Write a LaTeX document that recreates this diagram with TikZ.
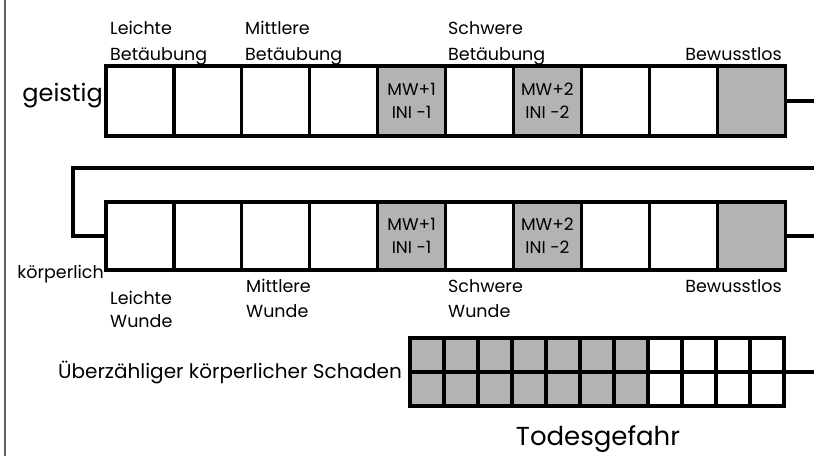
\documentclass[tikz,border=0pt]{standalone}
\usepackage{fontspec}
\setmainfont{Poppins}
\definecolor{cellgray}{RGB}{179,179,179}
\definecolor{framegray}{RGB}{95,95,95}
\begin{document}
\begin{tikzpicture}[x=1pt,y=-1pt,
  cell/.style={draw=black, line width=3.2pt, fill=white, minimum width=68pt, minimum height=70pt, inner sep=0pt, outer sep=0pt, anchor=north west},
  lowcell/.style={cell, minimum height=68pt},
  dcell/.style={draw=black, line width=3.2pt, fill=white, minimum width=34pt, minimum height=34pt, inner sep=0pt, outer sep=0pt, anchor=north west},
  shaded/.style={fill=cellgray},
  conn/.style={draw=black, line width=3.2pt},
  lbl/.style={inner sep=0pt, align=left, font=\fontsize{17.5}{26}\selectfont},
  celltxt/.style={font=\fontsize{17}{23}\selectfont, align=center}
]
\useasboundingbox (0,0) rectangle (814,456);
\draw[framegray, line width=2pt] (5,0) -- (5,456);

% top row (geistig)
\foreach \i in {0,...,9} {
  \node[cell] (g\i) at ({106+67.9*\i},66) {};
}
\node[cell, shaded, celltxt] (g4) at ({106+67.9*4},66) {MW+1\\INI -1};
\node[cell, shaded, celltxt] (g6) at ({106+67.9*6},66) {MW+2\\INI -2};
\node[cell, shaded] (g9) at ({106+67.9*9},66) {};

% bottom row (koerperlich)
\foreach \i in {0,...,9} {
  \node[lowcell] (k\i) at ({106+67.9*\i},202) {};
}
\node[lowcell, shaded, celltxt] (k4) at ({106+67.9*4},202) {MW+1\\INI -1};
\node[lowcell, shaded, celltxt] (k6) at ({106+67.9*6},202) {MW+2\\INI -2};
\node[lowcell, shaded] (k9) at ({106+67.9*9},202) {};

% damage grid
\foreach \c in {0,...,10} {
  \ifnum\c<7
    \node[dcell, shaded] (da\c) at ({410+34*\c},338) {};
    \node[dcell, shaded] (db\c) at ({410+34*\c},372) {};
  \else
    \node[dcell] (da\c) at ({410+34*\c},338) {};
    \node[dcell] (db\c) at ({410+34*\c},372) {};
  \fi
}

% connectors
\coordinate (gend) at (814,101);
\coordinate (wrapR) at (814,168);
\coordinate (kend) at (814,236);
\coordinate (dend) at (814,372);
\draw[conn] (g9.east) -- (gend);
\draw[conn] (wrapR) -- (73,168) |- (k0.west);
\draw[conn] (k9.east) -- (kend);
\draw[conn] (da10.south east) -- (dend);

% labels
\node[anchor=base east, inner sep=0pt, font=\fontsize{24}{28}\selectfont] (geistig) at (103,101) {geistig};
\node[anchor=base east, inner sep=0pt, font=\fontsize{17.5}{25}\selectfont] (koerper) at (104,278) {körperlich};

\node[lbl, anchor=base west] (l1) at (110,60) {Leichte\\Betäubung};
\node[lbl, anchor=base west] (l2) at (245,60) {Mittlere\\Betäubung};
\node[lbl, anchor=base west] (l3) at (448,60) {Schwere\\Betäubung};
\node[lbl, anchor=base east] (l4) at (782,60) {Bewusstlos};

\node[lbl, anchor=base west, font=\fontsize{17.5}{23}\selectfont] (w1) at (110,327) {Leichte\\Wunde};
\node[lbl, anchor=base west, font=\fontsize{17.5}{25}\selectfont] (w2) at (246,317) {Mittlere\\Wunde};
\node[lbl, anchor=base west, font=\fontsize{17.5}{25}\selectfont] (w3) at (448,317) {Schwere\\Wunde};
\node[lbl, anchor=base east] (w4) at (782,292) {Bewusstlos};

\node[anchor=base east, inner sep=0pt, font=\fontsize{20}{24}\selectfont] (schaden) at (402,378) {Überzähliger körperlicher Schaden};
\node[anchor=base, inner sep=0pt, font=\fontsize{26}{30}\selectfont] (tod) at (598,445) {Todesgefahr};
\end{tikzpicture}
\end{document}
